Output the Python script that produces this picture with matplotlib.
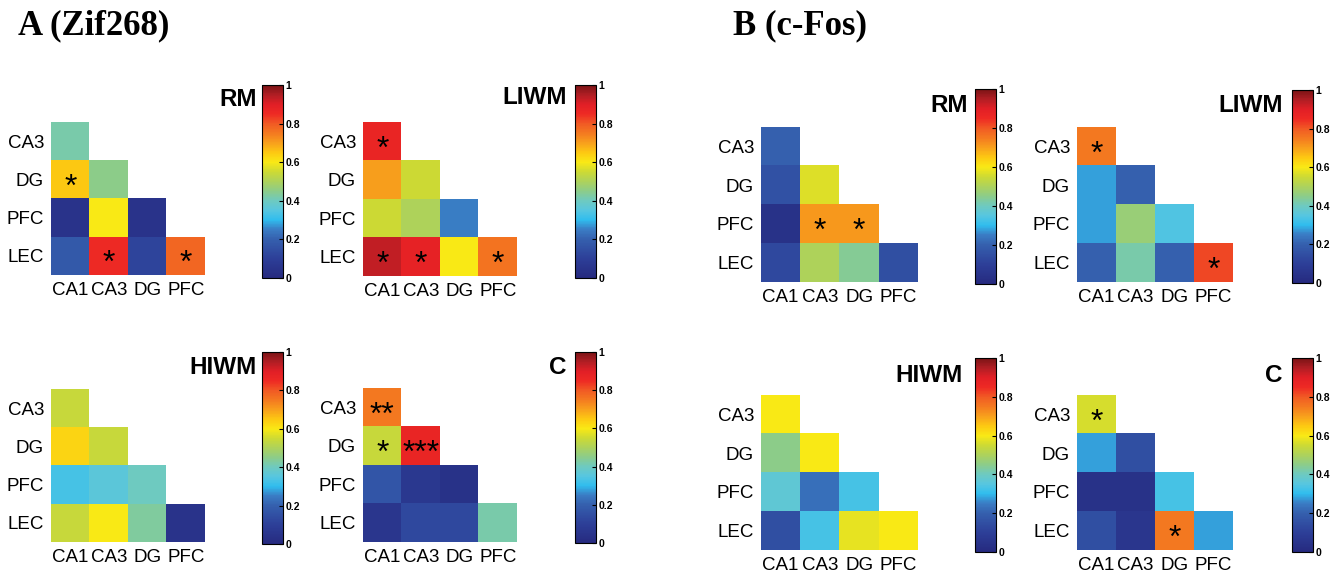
import numpy as np
import matplotlib
matplotlib.use("Agg")
import matplotlib.pyplot as plt
from matplotlib.colors import LinearSegmentedColormap

plt.rcParams['font.family'] = ['Liberation Sans', 'DejaVu Sans']

rows = ['CA3', 'DG', 'PFC', 'LEC']
cols = ['CA1', 'CA3', 'DG', 'PFC']
cbar_ticks = [0, 0.2, 0.4, 0.6, 0.8, 1]
cbar_labels = ['0', '0.2', '0.4', '0.6', '0.8', '1']

# lower-triangular correlation values (row i has i+1 entries)
zif_rm = [[0.42], [0.65, 0.45], [0.05, 0.60, 0.05], [0.18, 0.85, 0.12, 0.78]]
zif_rm_sig = [[''], ['*', ''], ['', '', ''], ['', '*', '', '*']]
zif_liwm = [[0.87], [0.70, 0.55], [0.55, 0.50, 0.25], [0.93, 0.88, 0.60, 0.76]]
zif_liwm_sig = [['*'], ['', ''], ['', '', ''], ['*', '*', '', '*']]
zif_hiwm = [[0.54], [0.63, 0.54], [0.33, 0.36, 0.40], [0.54, 0.60, 0.43, 0.05]]
zif_hiwm_sig = [[''], ['', ''], ['', '', ''], ['', '', '', '']]
zif_c = [[0.75], [0.54, 0.87], [0.17, 0.07, 0.04], [0.06, 0.13, 0.13, 0.42]]
zif_c_sig = [['**'], ['*', '***'], ['', '', ''], ['', '', '', '']]

fos_rm = [[0.20], [0.16, 0.57], [0.04, 0.71, 0.71], [0.13, 0.50, 0.44, 0.15]]
fos_rm_sig = [[''], ['', ''], ['', '*', '*'], ['', '', '', '']]
fos_liwm = [[0.75], [0.28, 0.20], [0.28, 0.47, 0.34], [0.20, 0.42, 0.20, 0.82]]
fos_liwm_sig = [['*'], ['', ''], ['', '', ''], ['', '', '', '*']]
fos_hiwm = [[0.60], [0.45, 0.60], [0.37, 0.23, 0.33], [0.15, 0.33, 0.58, 0.60]]
fos_hiwm_sig = [[''], ['', ''], ['', '', ''], ['', '', '', '']]
fos_c = [[0.56], [0.28, 0.15], [0.04, 0.04, 0.33], [0.15, 0.06, 0.75, 0.28]]
fos_c_sig = [['*'], ['', ''], ['', '', ''], ['', '', '*', '']]

cmap = LinearSegmentedColormap.from_list('corr', [
    (0.00, '#262a7f'), (0.10, '#2d3f98'), (0.20, '#3560ae'), (0.25, '#3a7cc4'),
    (0.30, '#30bdee'), (0.35, '#57c6e0'), (0.40, '#6ecac0'), (0.45, '#8ccc8a'),
    (0.50, '#add25c'), (0.55, '#cdda34'), (0.60, '#f9e915'), (0.65, '#fdc912'),
    (0.70, '#f8a01c'), (0.75, '#f47a20'), (0.80, '#f15a24'), (0.85, '#ee2a24'),
    (0.90, '#e21f26'), (0.95, '#b11e24'), (1.00, '#7b1416')])

W, H = 1340, 573
fig = plt.figure(figsize=(W / 100, H / 100), dpi=100)


def rect(x0, y0, x1, y1):
    return [x0 / W, 1 - y1 / H, (x1 - x0) / W, (y1 - y0) / H]


def to_matrix(vals):
    m = np.full((4, 4), np.nan)
    for i, r in enumerate(vals):
        m[i, :len(r)] = r
    return np.ma.masked_invalid(m)


def panel(vals, sig, name, hm, cb, title_xy):
    ax = fig.add_axes(rect(*hm))
    im = ax.imshow(to_matrix(vals), cmap=cmap, vmin=0, vmax=1,
                   aspect='auto', interpolation='nearest')
    for i, r in enumerate(sig):
        for j, s in enumerate(r):
            if s:
                ax.text(j, i + 0.22, s, ha='center', va='center', fontsize=23)
    ax.set_xticks(range(4))
    ax.set_xticklabels(cols, fontsize=13.5)
    ax.set_yticks(range(4))
    ax.set_yticklabels(rows, fontsize=13.5)
    ax.tick_params(length=0, pad=5)
    for sp in ax.spines.values():
        sp.set_visible(False)
    cax = fig.add_axes(rect(*cb))
    cbar = fig.colorbar(im, cax=cax, ticks=cbar_ticks)
    cbar.ax.set_yticklabels(cbar_labels, fontsize=7.5, fontweight='bold')
    cbar.ax.tick_params(direction='in', length=3, width=0.8, pad=2)
    cbar.outline.set_linewidth(0.8)
    fig.text(title_xy[0] / W, 1 - title_xy[1] / H, name, ha='right', va='center',
             fontsize=17.5, fontweight='bold')


panel(zif_rm, zif_rm_sig, 'RM', (51, 122, 205, 275), (262, 85, 283, 278), (257, 99))
panel(zif_liwm, zif_liwm_sig, 'LIWM', (363, 122, 517, 276), (575, 85, 596, 278), (567, 98))
panel(zif_hiwm, zif_hiwm_sig, 'HIWM', (51, 389, 205, 542), (262, 352, 283, 544), (257, 367))
panel(zif_c, zif_c_sig, 'C', (363, 388, 517, 542), (575, 352, 596, 543), (567, 367))

panel(fos_rm, fos_rm_sig, 'RM', (761, 127, 918, 282), (975, 89, 996, 284), (968, 105))
panel(fos_liwm, fos_liwm_sig, 'LIWM', (1077, 127, 1233, 282), (1292, 90, 1313, 283), (1283, 105))
panel(fos_hiwm, fos_hiwm_sig, 'HIWM', (761, 395, 918, 550), (975, 358, 996, 552), (963, 375))
panel(fos_c, fos_c_sig, 'C', (1077, 395, 1233, 550), (1292, 358, 1313, 552), (1282, 375))

fig.text(18 / W, 1 - 26 / H, 'A (Zif268)', ha='left', va='center', fontsize=25,
         fontweight='bold', family='Liberation Serif')
fig.text(733 / W, 1 - 26 / H, 'B (c-Fos)', ha='left', va='center', fontsize=25,
         fontweight='bold', family='Liberation Serif')

fig.savefig('out.png', dpi=100)
